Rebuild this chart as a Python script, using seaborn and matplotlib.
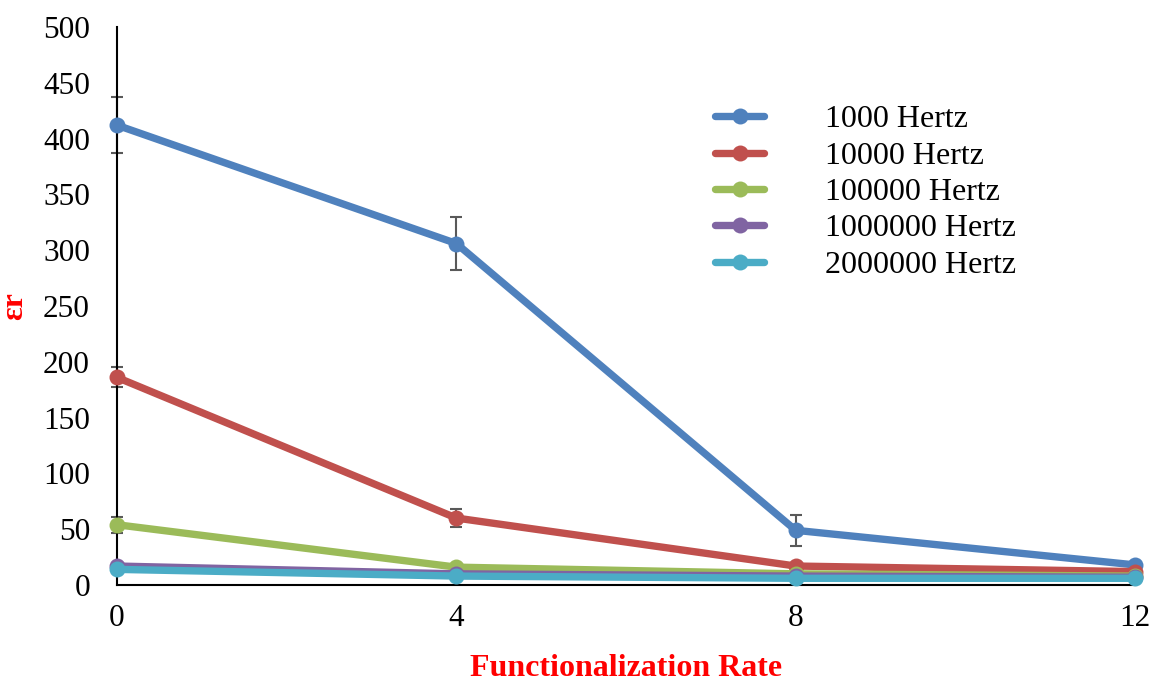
import numpy as np
import pandas as pd
import matplotlib
matplotlib.use("Agg")
import matplotlib.pyplot as plt
import seaborn as sns

# Functionalization rate (x) and relative permittivity per frequency
rates = [0, 4, 8, 12]
series_names = ["1000 Hertz", "10000 Hertz", "100000 Hertz", "1000000 Hertz", "2000000 Hertz"]
eps_1k = [412, 306, 49, 18]
eps_10k = [186, 60, 17, 12]
eps_100k = [54, 16, 10, 8]
eps_1m = [17, 10, 8, 7]
eps_2m = [14, 8, 6, 6]
err_1k = [25, 24, 14, 0]
err_10k = [9, 8, 0, 0]
err_100k = [7, 0, 0, 0]
colors = ["#4F81BD", "#C0504D", "#9BBB59", "#8064A2", "#4BACC6"]

values = [eps_1k, eps_10k, eps_100k, eps_1m, eps_2m]
errors = [err_1k, err_10k, err_100k, None, None]

df = pd.DataFrame({
    "rate": np.tile(rates, len(series_names)),
    "eps": np.concatenate(values),
    "series": np.repeat(series_names, len(rates)),
})

sns.set_style("white")
plt.rcParams["font.family"] = ["Liberation Serif", "DejaVu Serif"]
plt.rcParams["text.color"] = "black"
plt.rcParams["lines.solid_capstyle"] = "round"
plt.rcParams["lines.solid_joinstyle"] = "round"

fig = plt.figure(figsize=(11.54, 6.81), dpi=100)
ax = fig.add_axes([117 / 1154, 96 / 681, 1018 / 1154, 558 / 681])

# error bars sit beneath the lines
for name, vals, err in zip(series_names, values, errors):
    if err is None:
        continue
    ax.errorbar(rates, vals, yerr=err, fmt="none", ecolor="#595959",
                elinewidth=1.5, capsize=4.5, capthick=1.5, zorder=1, clip_on=False)

sns.lineplot(data=df, x="rate", y="eps", hue="series", hue_order=series_names,
             palette=colors, marker="o", markersize=11.5, markeredgewidth=0,
             linewidth=5.3, ax=ax, zorder=3, clip_on=False)

ax.set_xlim(0, 12)
ax.set_ylim(0, 500)
ax.set_xticks(rates)
ax.set_yticks(np.arange(0, 501, 50))
ax.tick_params(axis="both", labelsize=22.5, direction="out", length=7.5, width=1.5,
               color="black", labelcolor="black")
ax.tick_params(axis="x", pad=6)
ax.tick_params(axis="y", pad=12)
for side in ["top", "right"]:
    ax.spines[side].set_visible(False)
for side in ["left", "bottom"]:
    ax.spines[side].set_color("black")
    ax.spines[side].set_linewidth(1.5)

ax.set_xlabel("Functionalization Rate", fontsize=23, fontweight="bold", color="red", labelpad=15)
ax.set_ylabel("εr", fontsize=23, fontweight="bold", color="red", labelpad=10)

handles, labels = ax.get_legend_handles_labels()
leg = ax.legend(handles, labels, loc="upper left", bbox_to_anchor=(699 / 1154, 1 - 89 / 681),
                bbox_transform=fig.transFigure, frameon=False, fontsize=23, borderpad=0,
                handlelength=1.55, handletextpad=1.9, labelspacing=0.22)
for t in leg.get_texts():
    t.set_color("black")

fig.savefig("out.png", dpi=100)
